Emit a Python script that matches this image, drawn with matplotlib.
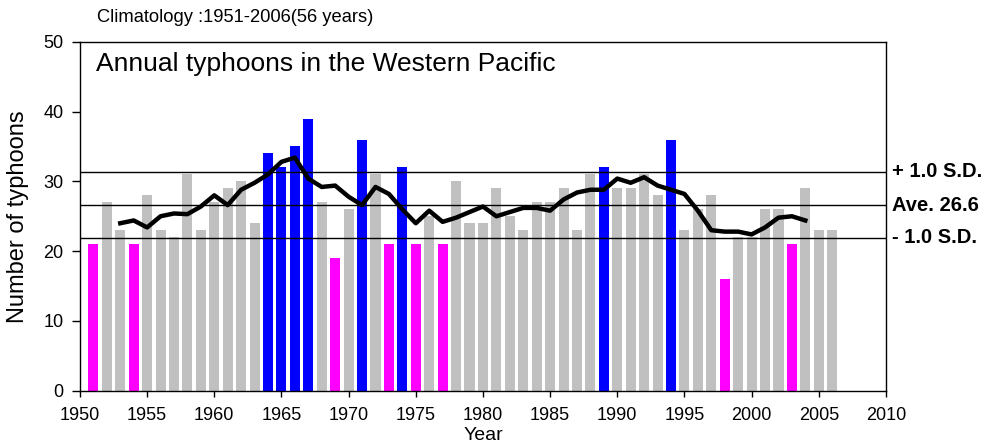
"""Annual typhoons in the Western Pacific, 1951-2006, with 5-yr running mean."""

import matplotlib
matplotlib.use("Agg")
import matplotlib.pyplot as plt
import matplotlib.transforms as mtransforms

plt.rcParams["font.family"] = ["Liberation Sans", "DejaVu Sans"]

# --- data --------------------------------------------------------------------
years = list(range(1951, 2007))
counts = [21, 27, 23, 21, 28, 23, 22, 31, 23, 27,
          29, 30, 24, 34, 32, 35, 39, 27, 19, 26,
          36, 31, 21, 32, 21, 25, 21, 30, 24, 24,
          29, 25, 23, 27, 27, 29, 23, 31, 32, 29,
          29, 31, 28, 36, 23, 26, 28, 16, 22, 22,
          26, 26, 21, 29, 23, 23]

mean_years = list(range(1953, 2005))
running_mean = [24.0, 24.4, 23.4, 25.0, 25.4, 25.3, 26.4, 28.0, 26.6, 28.8,
                29.8, 31.0, 32.8, 33.4, 30.4, 29.2, 29.4, 27.8, 26.6, 29.2,
                28.2, 26.0, 24.0, 25.8, 24.2, 24.8, 25.6, 26.4, 25.0, 25.6,
                26.2, 26.2, 25.8, 27.4, 28.4, 28.8, 28.8, 30.4, 29.8, 30.6,
                29.4, 28.8, 28.2, 25.8, 23.0, 22.8, 22.8, 22.4, 23.4, 24.8,
                25.0, 24.4]

ave = 26.6
sd_hi = 31.4
sd_lo = 21.9

GRAY, BLUE, MAGENTA = "#c0c0c0", "#0000ff", "#ff00ff"


def bar_color(v):
    if v >= sd_hi:
        return BLUE
    if v <= sd_lo:
        return MAGENTA
    return GRAY


fig = plt.figure(figsize=(9.87, 4.45), dpi=100)
ax = fig.add_axes([0.081, 0.122, 0.8166, 0.784])

ax.bar(years, counts, width=0.75, color=[bar_color(v) for v in counts],
       zorder=2)

for y in (sd_hi, ave, sd_lo):
    ax.axhline(y, color="black", lw=1.0, zorder=3)

ax.plot(mean_years, running_mean, color="black", lw=3.2,
        solid_joinstyle="round", zorder=4)

ax.set_xlim(1950, 2010)
ax.set_ylim(0, 50)
ax.set_xticks(range(1950, 2011, 5))
ax.set_yticks(range(0, 51, 10))
ax.tick_params(direction="out", labelsize=13, width=1)
ax.tick_params(axis="x", length=4, pad=8)
ax.tick_params(axis="y", length=6, pad=6)
for s in ax.spines.values():
    s.set_linewidth(1.0)

ax.set_ylabel("Number of typhoons", fontsize=17, labelpad=10)
ax.set_xlabel("Year", fontsize=14, labelpad=2)

ax.text(0.02, 0.936, "Annual typhoons in the Western Pacific",
        transform=ax.transAxes, fontsize=19, va="center", ha="left")
fig.text(97 / 987, 1 - 17 / 445, "Climatology :1951-2006(56 years)",
         fontsize=13.2, va="center", ha="left")

trans = mtransforms.blended_transform_factory(ax.transAxes, ax.transData)
for y, lab in ((sd_hi, "+ 1.0 S.D."), (ave, f"Ave. {ave}"),
               (sd_lo, "- 1.0 S.D.")):
    ax.text(1.007, y, lab, transform=trans, fontsize=14.5,
            fontweight="bold", va="center", ha="left", clip_on=False)

fig.savefig("out.png", dpi=100)
plt.close(fig)
